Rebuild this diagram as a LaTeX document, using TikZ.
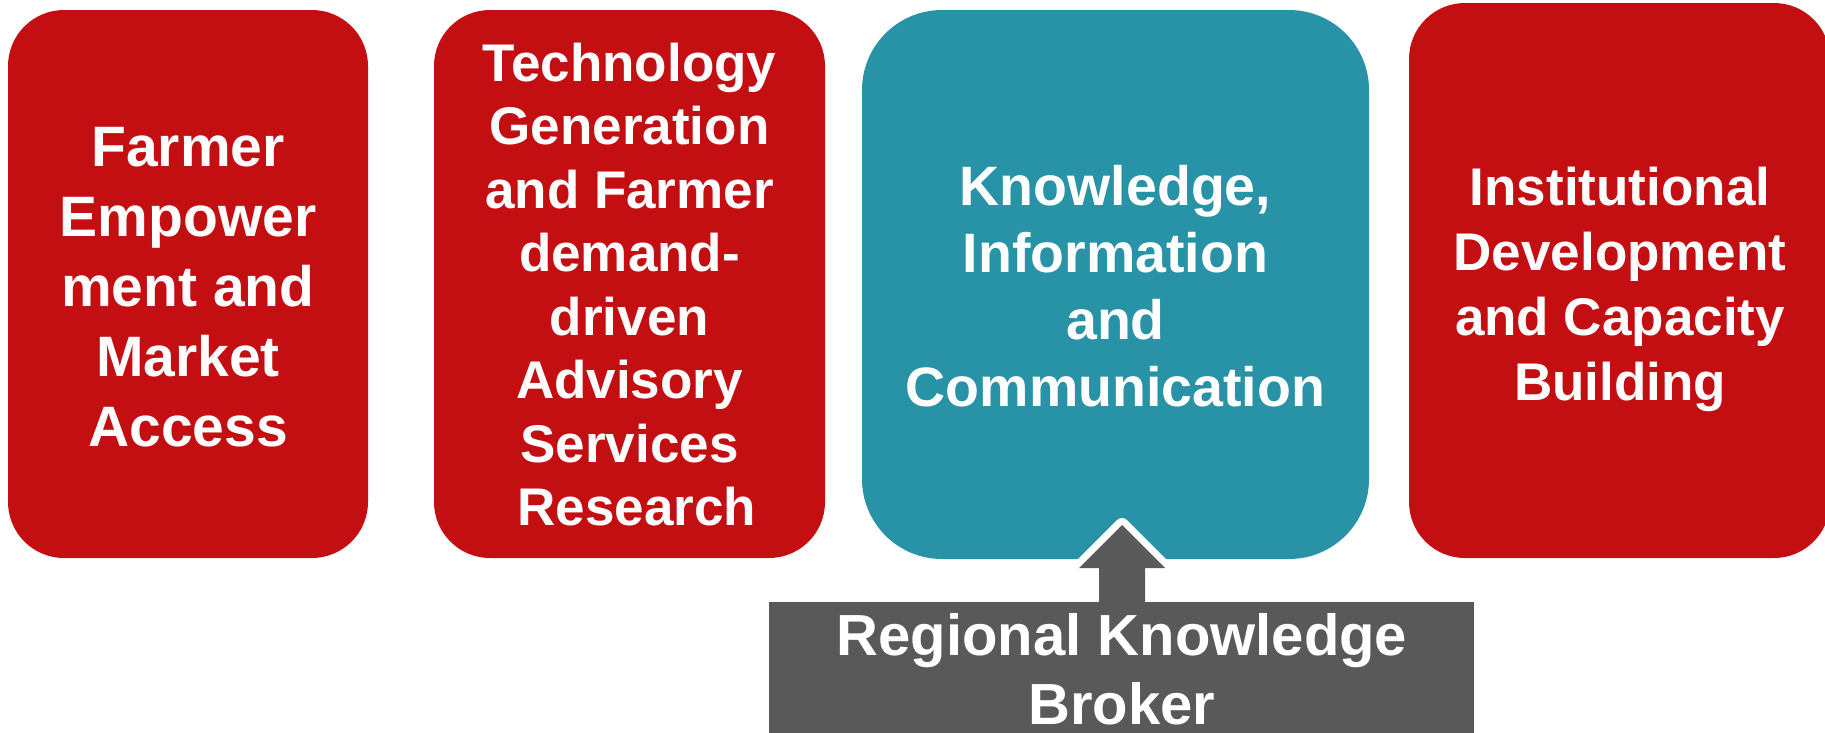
\documentclass[tikz,border=0pt]{standalone}
\usepackage{fontspec}
\setmainfont{Liberation Sans}
\definecolor{boxred}{RGB}{196,15,18}
\definecolor{boxteal}{RGB}{40,146,167}
\definecolor{boxgrey}{RGB}{89,89,89}
\begin{document}
\begin{tikzpicture}[x=1pt,y=-1pt,
  panel/.style={rectangle, inner sep=0pt, outer sep=0pt},
  redpanel/.style={panel, fill=boxred, rounded corners=56pt},
  tealpanel/.style={panel, fill=boxteal, rounded corners=80pt},
  greypanel/.style={panel, fill=boxgrey},
  paneltext/.style={text=white, align=center, inner sep=0pt, anchor=base},
  arrowline/.style={draw=white, line width=14pt, line join=round, line cap=round},
]
\useasboundingbox (0,0) rectangle (1825,732);
% panels
\node[redpanel, minimum width=360pt, minimum height=548pt] (fem) at (188,284) {};
\node[redpanel, minimum width=391pt, minimum height=548pt] (tgf) at (629.5,284) {};
\node[tealpanel, minimum width=507pt, minimum height=549pt] (kic) at (1115.5,284.5) {};
\node[redpanel, minimum width=421pt, minimum height=555pt] (idc) at (1619.5,280.5) {};
% texts (anchored at the baseline of the last line)
\node[paneltext, font=\fontsize{57pt}{70pt}\selectfont\bfseries] (femt) at (188,446)
  {Farmer\\Empower\\ment and\\Market\\Access};
\node[paneltext, font=\fontsize{53pt}{63.5pt}\selectfont\bfseries] (tgft) at (629.5,525.5)
  {Technology\\Generation\\and Farmer\\demand-\\driven\\Advisory\\Services\\\hspace*{0.28em}Research};
\node[paneltext, font=\fontsize{55.5pt}{66.7pt}\selectfont\bfseries] (kict) at (1115.5,406)
  {Knowledge,\\Information\\and\\Communication};
\node[paneltext, font=\fontsize{53pt}{65.2pt}\selectfont\bfseries] (idct) at (1620,400.6)
  {Institutional\\Development\\and Capacity\\Building};
% arrow
\coordinate (tip) at (1122,525);
\coordinate (sl) at (1099,612);
\coordinate (sr) at (1145,612);
\coordinate (hl) at (1079,568);
\coordinate (hr) at (1165,568);
\draw[arrowline] (sl) -- (sl |- hl) -- (hl) -- (tip) -- (hr) -- (sr |- hr) -- (sr);
\fill[boxgrey] (sl) -- (sl |- hl) -- (hl) -- (tip) -- (hr) -- (sr |- hr) -- (sr) -- cycle;
% broker
\node[greypanel, minimum width=705pt, minimum height=143pt, anchor=north] (rkb) at (1121.5,602) {};
\node[paneltext, font=\fontsize{58pt}{69pt}\selectfont\bfseries] (rkbt) at (1122,724)
  {Regional Knowledge\\Broker};
\end{tikzpicture}
\end{document}
